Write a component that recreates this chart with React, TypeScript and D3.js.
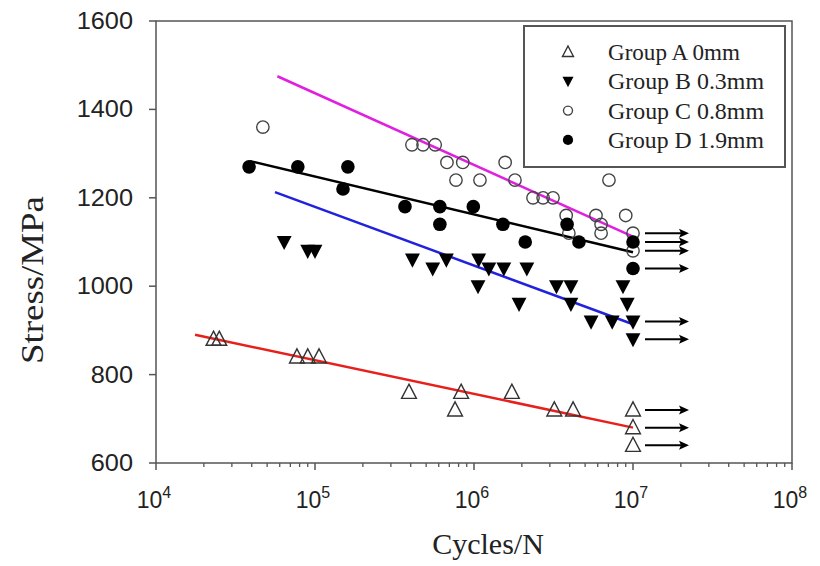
import * as d3 from 'd3';
import React from 'react';

// S-N data: [cycles, stress MPa]
const cycleTicks = [1e4, 1e5, 1e6, 1e7, 1e8];
const stressTicks = [600, 800, 1000, 1200, 1400, 1600];

const groupA: [number, number][] = [
    [2.3e4, 880], [2.5e4, 880],
    [7.7e4, 840], [9.0e4, 840], [1.06e5, 840],
    [3.9e5, 760], [7.6e5, 720], [8.3e5, 760], [1.73e6, 760],
    [3.2e6, 720], [4.2e6, 720],
    [1e7, 720], [1e7, 680], [1e7, 640],
];
const groupB: [number, number][] = [
    [6.4e4, 1100], [9.0e4, 1080], [1.0e5, 1080],
    [4.1e5, 1060], [5.5e5, 1040], [6.7e5, 1060],
    [1.06e6, 1000], [1.07e6, 1060], [1.24e6, 1040], [1.54e6, 1040],
    [1.92e6, 960], [2.15e6, 1040],
    [3.3e6, 1000], [4.07e6, 1000], [4.07e6, 960],
    [5.45e6, 920], [7.4e6, 920], [8.65e6, 1000], [9.2e6, 960],
    [1e7, 920], [1e7, 880],
];
const groupC: [number, number][] = [
    [4.7e4, 1360],
    [4.07e5, 1320], [4.78e5, 1320], [5.7e5, 1320],
    [6.76e5, 1280], [7.7e5, 1240], [8.5e5, 1280],
    [1.09e6, 1240], [1.57e6, 1280], [1.81e6, 1240],
    [2.35e6, 1200], [2.72e6, 1200], [3.14e6, 1200],
    [3.8e6, 1160], [3.95e6, 1120], [5.85e6, 1160],
    [6.3e6, 1140], [6.3e6, 1120], [7.06e6, 1240], [9.0e6, 1160],
    [1e7, 1120], [1e7, 1080],
];
const groupD: [number, number][] = [
    [3.85e4, 1270], [7.8e4, 1270], [1.5e5, 1220], [1.61e5, 1270],
    [3.68e5, 1180], [6.1e5, 1180], [6.1e5, 1140], [9.9e5, 1180],
    [1.52e6, 1140], [2.1e6, 1100], [3.85e6, 1140], [4.57e6, 1100],
    [1e7, 1100], [1e7, 1040],
];

// fitted lines (start, end)
const fitA: [number, number][] = [[1.76e4, 890], [1e7, 680]];
const fitB: [number, number][] = [[5.6e4, 1213], [1e7, 914]];
const fitC: [number, number][] = [[5.8e4, 1475], [1e7, 1112]];
const fitD: [number, number][] = [[3.9e4, 1283], [1e7, 1077]];

const legendLabels = ['Group A 0mm', 'Group B 0.3mm', 'Group C 0.8mm', 'Group D 1.9mm'];
const runoutLimit = 1e7;

const margin = { left: 156, right: 28, top: 21, bottom: 103 };
const W = 820, H = 566;

export default () => {
    const x = d3.scaleLog().domain([1e4, 1e8]).range([margin.left, W - margin.right]);
    const y = d3.scaleLinear().domain([600, 1600]).range([H - margin.bottom, margin.top]);
    const line = d3.line<[number, number]>().x(d => x(d[0])).y(d => y(d[1]));

    const minorTicks: number[] = [];
    cycleTicks.slice(0, -1).forEach(t => {
        for (let k = 2; k < 10; k++) minorTicks.push(t * k);
    });

    const triUp = (cx: number, cy: number, s: number) =>
        `M${cx},${cy - s * 0.6}L${cx + s * 0.55},${cy + s * 0.45}L${cx - s * 0.55},${cy + s * 0.45}Z`;
    const triDown = (cx: number, cy: number, s: number) =>
        `M${cx - s * 0.55},${cy - s * 0.45}L${cx + s * 0.55},${cy - s * 0.45}L${cx},${cy + s * 0.6}Z`;

    const marker = (kind: string, cx: number, cy: number, key: any, small = false) => {
        const s = small ? 10 : 13.5;
        const r = small ? 4.5 : 6.2;
        if (kind === 'A') return <path key={key} d={triUp(cx, cy, s)} fill="none" stroke="#333" strokeWidth={1.4} />;
        if (kind === 'B') return <path key={key} d={triDown(cx, cy, s)} fill="#000" />;
        if (kind === 'C') return <circle key={key} cx={cx} cy={cy} r={r} fill="none" stroke="#444" strokeWidth={1.4} />;
        return <circle key={key} cx={cx} cy={cy} r={r + 0.6} fill="#000" />;
    };

    const groups: [string, [number, number][]][] = [['A', groupA], ['B', groupB], ['C', groupC], ['D', groupD]];
    const fits: [[number, number][], string][] = [[fitA, '#e8201c'], [fitB, '#2222dd'], [fitC, '#e020e0'], [fitD, '#000']];

    const runouts = groups.flatMap(([, pts]) => pts.filter(p => p[0] >= runoutLimit));

    const axisColor = '#555';
    const sans = 'Liberation Sans, Arial, sans-serif';
    const serif = 'Liberation Serif, Times New Roman, serif';

    return (
        <svg width={W} height={H} style={{ position: 'absolute', left: 0, top: 0, background: '#fff' }}>
            {/* frame */}
            <rect x={x(1e4)} y={y(1600)} width={x(1e8) - x(1e4)} height={y(600) - y(1600)}
                fill="none" stroke={axisColor} strokeWidth={1.5} />

            {/* y ticks */}
            {stressTicks.map(t => (
                <g key={'y' + t}>
                    <line x1={x(1e4) - 7} x2={x(1e4)} y1={y(t)} y2={y(t)} stroke={axisColor} strokeWidth={1.5} />
                    <text x={x(1e4) - 23} y={y(t) + 8} textAnchor="end" fontFamily={sans} fontSize={23}
                        fill="#222" transform={`translate(${(x(1e4) - 23) * -0.1},0) scale(1.1,1)`}>{t}</text>
                </g>
            ))}

            {/* x ticks */}
            {minorTicks.map(t => (
                <line key={'m' + t} x1={x(t)} x2={x(t)} y1={y(600)} y2={y(600) + 4} stroke={axisColor} strokeWidth={1.3} />
            ))}
            {cycleTicks.map(t => (
                <g key={'x' + t}>
                    <line x1={x(t)} x2={x(t)} y1={y(600)} y2={y(600) + 7} stroke={axisColor} strokeWidth={1.5} />
                    <text x={x(t) - 2} y={y(600) + 45} textAnchor="middle" fontFamily={sans} fontSize={23} fill="#222">
                        10<tspan fontSize={16} dy={-10}>{Math.round(Math.log10(t))}</tspan>
                    </text>
                </g>
            ))}

            {/* axis titles */}
            <text x={(x(1e4) + x(1e8)) / 2 + 14} y={H - 12} textAnchor="middle" fontFamily={serif} fontSize={30} fill="#222">Cycles/N</text>
            <text transform={`translate(43,${(y(600) + y(1600)) / 2 + 38}) rotate(-90)`} textAnchor="middle"
                fontFamily={serif} fontSize={31} fill="#222" textLength={168} lengthAdjust="spacingAndGlyphs">Stress/MPa</text>

            {/* fitted lines */}
            {fits.map(([pts, c], i) => (
                <path key={'f' + i} d={line(pts) || ''} fill="none" stroke={c} strokeWidth={2.5} />
            ))}

            {/* run-out arrows */}
            {runouts.map((p, i) => {
                const px = x(p[0]), py = y(p[1]);
                return (
                    <g key={'r' + i}>
                        <line x1={px + 12} x2={px + 50} y1={py} y2={py} stroke="#000" strokeWidth={2} />
                        <path d={`M${px + 56},${py}L${px + 46},${py - 4.5}L${px + 48},${py}L${px + 46},${py + 4.5}Z`} fill="#000" />
                    </g>
                );
            })}

            {/* points */}
            {groups.map(([k, pts]) => (
                <g key={'g' + k}>{pts.map((p, i) => marker(k, x(p[0]), y(p[1]), i))}</g>
            ))}

            {/* legend */}
            <rect x={524} y={26} width={261} height={141} fill="#fff" stroke="#555" strokeWidth={2} />
            {legendLabels.map((lab, i) => (
                <g key={'l' + i}>
                    {marker(groups[i][0], 568, 52 + i * 29.3, 'lm' + i, true)}
                    <text x={608} y={52 + i * 29.3 + 8} fontFamily={serif} fontSize={23} fill="#222"
                        textLength={lab.length * 12} lengthAdjust="spacingAndGlyphs">{lab}</text>
                </g>
            ))}
        </svg>
    );
};
